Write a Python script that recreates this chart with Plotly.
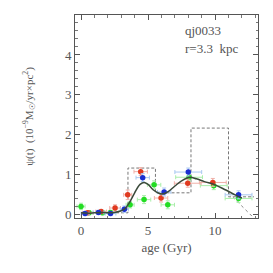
import plotly.graph_objects as go

# Dashed histogram (bin edges and values)
hist_edges = [0.0, 3.5, 5.55, 8.2, 11.0, 12.9]
hist_vals = [0.05, 1.17, 0.55, 2.17, 0.45]

# Smooth SFH curve
curve_x = [0.0, 0.5, 1.0, 1.5, 2.0, 2.5, 3.0, 3.3, 3.6, 4.0, 4.4, 4.7, 5.0, 5.4, 5.8, 6.1, 6.5, 7.0, 7.5, 8.1, 8.6, 9.2, 10.0, 10.8, 11.5, 12.0]
curve_y = [0.05, 0.04, 0.05, 0.06, 0.05, 0.06, 0.1, 0.16, 0.3, 0.55, 0.76, 0.81, 0.76, 0.62, 0.54, 0.52, 0.58, 0.72, 0.85, 0.94, 0.9, 0.83, 0.75, 0.62, 0.5, 0.42]

# Points (x, y, x-error, y-error)
red_x = [0.5, 1.5, 2.54, 3.48, 4.45, 5.97, 7.96, 9.83]
red_y = [0.05, 0.08, 0.17, 0.5, 1.08, 0.42, 0.79, 0.81]
red_ex = [0.4, 0.4, 0.4, 0.3, 0.5, 0.5, 1.0, 1.0]
red_ey = [0.05, 0.05, 0.08, 0.12, 0.1, 0.1, 0.1, 0.1]

blue_x = [0.3, 1.3, 2.2, 3.23, 4.6, 6.2, 8.0, 11.75]
blue_y = [0.03, 0.06, 0.03, 0.14, 0.93, 0.57, 1.07, 0.5]
blue_ex = [0.3, 0.4, 0.4, 0.3, 0.5, 0.5, 1.0, 1.0]
blue_ey = [0.05, 0.05, 0.05, 0.08, 0.1, 0.1, 0.1, 0.1]

green_x = [0.0, 0.6, 1.6, 2.2, 3.66, 4.7, 5.45, 6.47, 8.06, 9.9, 11.75]
green_y = [0.21, 0.05, 0.05, 0.06, 0.25, 0.38, 0.75, 0.25, 0.94, 0.73, 0.41]
green_ex = [0.3, 0.3, 0.4, 0.4, 0.3, 0.5, 0.5, 0.5, 1.0, 1.0, 1.0]
green_ey = [0.08, 0.05, 0.05, 0.05, 0.08, 0.1, 0.1, 0.1, 0.1, 0.1, 0.1]

# Dotted tail
tail_x = [11.0, 12.8]
tail_y = [0.55, -0.05]

fig = go.Figure()

hx, hy = [], []
for i, v in enumerate(hist_vals):
    hx += [hist_edges[i], hist_edges[i + 1]]
    hy += [v, v]
fig.add_trace(go.Scatter(x=hx, y=hy, mode="lines",
                         line=dict(color="#777777", width=1, dash="3px,2px"),
                         showlegend=False, hoverinfo="skip"))
fig.add_trace(go.Scatter(x=tail_x, y=tail_y, mode="lines",
                         line=dict(color="#888888", width=1, dash="dot"),
                         showlegend=False, hoverinfo="skip"))

def pts(xs, ys, exs, eys, col, ecol):
    fig.add_trace(go.Scatter(
        x=xs, y=ys, mode="markers",
        marker=dict(color=col, size=5.5),
        error_x=dict(type="data", array=exs, color=ecol, thickness=1, width=2),
        error_y=dict(type="data", array=eys, color=ecol, thickness=1, width=2),
        showlegend=False))

pts(green_x, green_y, green_ex, green_ey, "#22dd22", "#aaeeaa")
pts(red_x, red_y, red_ex, red_ey, "#e03a20", "#f0b0a8")
pts(blue_x, blue_y, blue_ex, blue_ey, "#1a2ed0", "#a8c8f0")

fig.add_trace(go.Scatter(x=curve_x, y=curve_y, mode="lines", line_shape="spline",
                         line=dict(color="#3a4a3a", width=1.5),
                         showlegend=False, hoverinfo="skip"))

axis_common = dict(
    showgrid=False, zeroline=False, showline=True, linecolor="#555555", linewidth=1,
    mirror="allticks", ticks="inside", ticklen=5, tickcolor="#555555",
    minor=dict(ticks="inside", ticklen=2.5, tickcolor="#777777"),
    tickfont=dict(family="Liberation Serif", size=13, color="#555555"),
    automargin=False,
)

fig.update_xaxes(range=[-0.45, 13.2], tickvals=[0, 5, 10], minor_dtick=1,
                 title=dict(text="age (Gyr)", standoff=6,
                            font=dict(family="Liberation Serif", size=13, color="#555555")),
                 **axis_common)
fig.update_yaxes(range=[-0.08, 5.0], tickvals=[0, 1, 2, 3, 4, 5], minor_dtick=0.2,
                 title=dict(text="ψ(t)  (10<sup>−9</sup>M<sub>☉</sub>/yr×pc<sup>2</sup>)", standoff=29,
                            font=dict(family="Liberation Serif", size=11, color="#555555")),
                 **axis_common)

fig.add_annotation(x=7.6, y=4.62, xanchor="left", yanchor="middle", showarrow=False,
                   text="qj0033", font=dict(family="Liberation Serif", size=13, color="#555555"))
fig.add_annotation(x=7.6, y=4.15, xanchor="left", yanchor="middle", showarrow=False,
                   text="r=3.3  kpc", font=dict(family="Liberation Serif", size=13, color="#555555"))

fig.update_layout(width=273, height=273, margin=dict(l=67, r=23, t=7, b=63),
                  paper_bgcolor="white", plot_bgcolor="white")

fig.write_html("out.html")
